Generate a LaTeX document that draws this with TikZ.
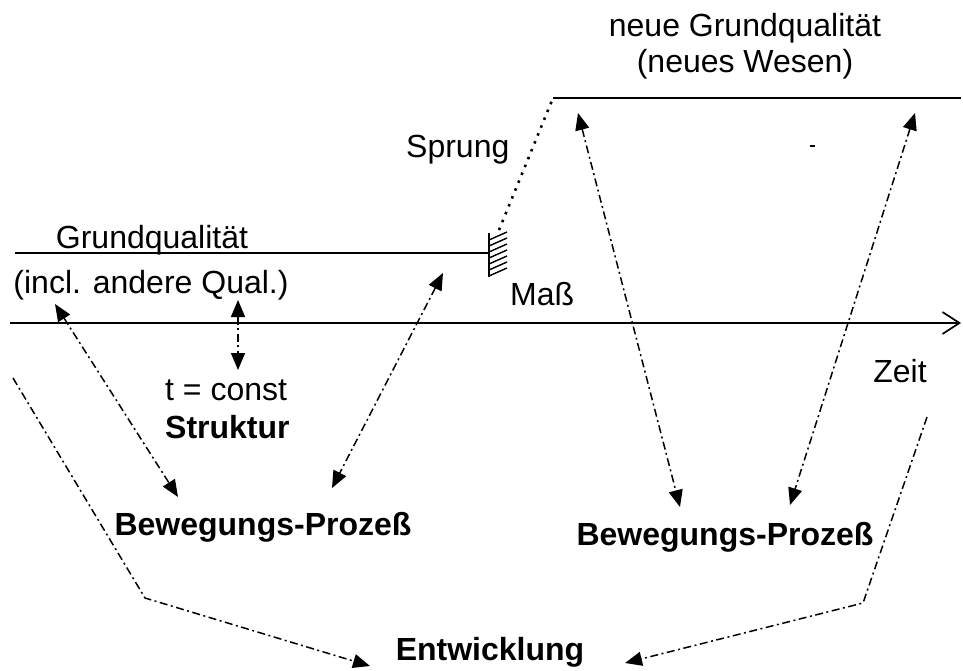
\documentclass[tikz,border=0pt]{standalone}
\usepackage{fontspec}
\setmainfont{Liberation Sans}
\usetikzlibrary{arrows.meta,calc}
\tikzset{
  txt/.style={inner sep=0pt, font=\fontsize{32}{38}\selectfont},
  btxt/.style={inner sep=0pt, font=\fontsize{32}{38}\selectfont\bfseries},
  solidline/.style={line width=1.7pt},
  dd/.style={line width=1.5pt, dash pattern=on 8pt off 3.5pt on 2pt off 3.5pt},
  tri/.style={-{Triangle[length=17pt,width=14pt]}},
  bitri/.style={{Triangle[length=17pt,width=14pt]}-{Triangle[length=17pt,width=14pt]}},
  dotline/.style={line width=2.6pt, dash pattern=on 2.5pt off 6pt}
}
\begin{document}
\begin{tikzpicture}[x=1pt,y=-1pt]
\useasboundingbox (0,0) rectangle (963,670);
% texts
\node[txt, anchor=base] (ngq) at (745,36) {neue Grundqualität};
\node[txt, anchor=base] (nwes) at (745,72) {(neues Wesen)};
\node[txt, anchor=base west] (sprung) at (406,157) {Sprung};
\node[txt, anchor=base] (gq) at (152,248) {Grundqualität};
\node[txt, anchor=base] (incl) at (151,293) {(incl. andere Qual.)};
\node[txt, anchor=base west] (mass) at (510,305) {Maß};
\node[txt, anchor=base] (zeit) at (900,382) {Zeit};
\node[txt, anchor=base west] (tconst) at (165,400) {t = const};
\node[btxt, anchor=base west] (struktur) at (165,438) {Struktur};
\node[btxt, anchor=base] (bp1) at (263,535) {Bewegungs-Prozeß};
\node[btxt, anchor=base] (bp2) at (725,545) {Bewegungs-Prozeß};
\node[btxt, anchor=base] (entw) at (490,660) {Entwicklung};
% coordinates
\coordinate (gqL) at (15,253);
\coordinate (gqR) at (489,253);
\coordinate (barT) at (489,233);
\coordinate (barB) at (489,277);
\coordinate (axL) at (10,323);
\coordinate (axR) at (961,323);
\coordinate (sp0) at (499,230);
\coordinate (sp1) at (553,98);
\coordinate (topR) at (961,98);
\coordinate (a1s) at (55,304);
\coordinate (a1e) at (178,497);
\coordinate (a2s) at (238,300);
\coordinate (a2e) at (238,370);
\coordinate (a3s) at (443,273);
\coordinate (a3e) at (332,488);
\coordinate (a4s) at (578,113);
\coordinate (a4e) at (680,507);
\coordinate (a5s) at (915,113);
\coordinate (a5e) at (790,505);
\coordinate (l0) at (13,378);
\coordinate (l1) at (145,598);
\coordinate (l2) at (370,666);
\coordinate (r0) at (927,417);
\coordinate (r1) at (863,603);
\coordinate (r2) at (625,663);
\coordinate (m0) at (810,146);
\coordinate (m1) at (815,146);
% solid lines
\draw[solidline] (gqL) -- (gqR);
\draw[line width=1.6pt] (barT) -- (barB);
\foreach \i in {0,...,6} {
  \draw[line width=1.4pt] ($(barT)+(0,7+6*\i)$) -- ++(18,-8);
}
\draw[solidline, -{Straight Barb[length=17pt,width=22pt,line width=1.7pt]}] (axL) -- (axR);
\draw[solidline] (sp1) -- (topR);
\draw[dotline] (sp0) -- (sp1);
% dash-dot connectors
\draw[dd, bitri] (a1s) -- (a1e);
\draw[dd, bitri] (a2s) -- (a2e);
\draw[dd, bitri] (a3s) -- (a3e);
\draw[dd, bitri] (a4s) -- (a4e);
\draw[dd, bitri] (a5s) -- (a5e);
\draw[dd, tri] (l0) -- (l1) -- (l2);
\draw[dd, tri] (r0) -- (r1) -- (r2);
\draw[line width=1.6pt] (m0) -- (m1);
\end{tikzpicture}
\end{document}
